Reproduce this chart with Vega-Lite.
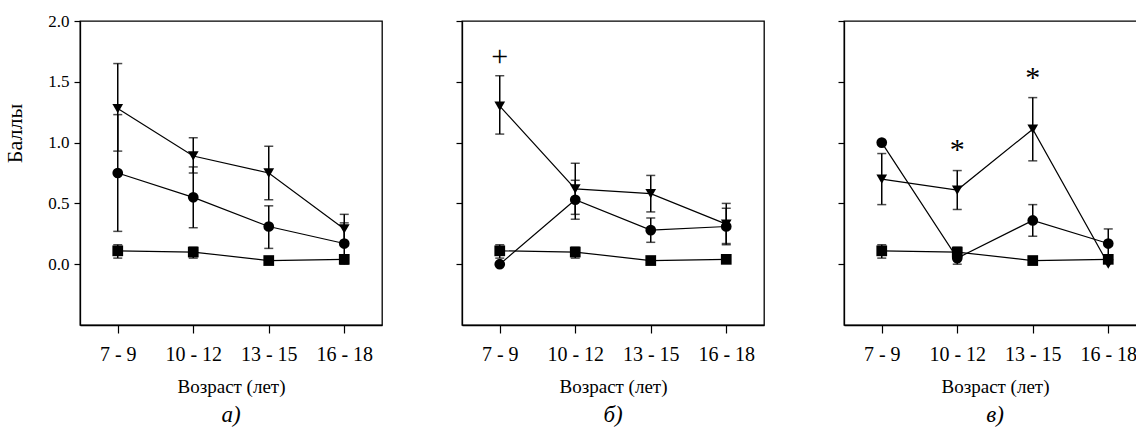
{
  "$schema": "https://vega.github.io/schema/vega-lite/v6.json",
  "padding": {"left": 3, "top": 11, "right": 0, "bottom": 0},
  "bounds": "flush",
  "spacing": 80,
  "background": "white",
  "config": {
    "font": "Liberation Serif",
    "view": {"stroke": "black", "strokeWidth": 1.3},
    "axis": {"domainColor": "black", "domainWidth": 1.3, "tickColor": "black", "tickWidth": 1.2, "labelColor": "black", "titleColor": "black", "labelFont": "Liberation Serif", "titleFont": "Liberation Serif", "labelFontSize": 19, "titleFontSize": 19, "titleFontWeight": "normal", "grid": false},
    "axisX": {"labelFontSize": 20, "titleFontSize": 19},
    "axisY": {"labelFontSize": 17, "titleFontSize": 22},
    "title": {"font": "Liberation Serif", "fontStyle": "italic", "fontWeight": "normal", "fontSize": 23, "color": "black", "orient": "bottom", "offset": 8}
  },
  "datasets": {
    "main": [
      {"panel": "а", "age": "7 - 9", "group": "circle", "mean": 0.75, "lo": 0.27, "hi": 1.23},
      {"panel": "а", "age": "10 - 12", "group": "circle", "mean": 0.55, "lo": 0.30, "hi": 0.80},
      {"panel": "а", "age": "13 - 15", "group": "circle", "mean": 0.31, "lo": 0.13, "hi": 0.48},
      {"panel": "а", "age": "16 - 18", "group": "circle", "mean": 0.17, "lo": 0.0, "hi": 0.34},
      {"panel": "а", "age": "7 - 9", "group": "triangle", "mean": 1.28, "lo": 0.93, "hi": 1.65},
      {"panel": "а", "age": "10 - 12", "group": "triangle", "mean": 0.89, "lo": 0.75, "hi": 1.04},
      {"panel": "а", "age": "13 - 15", "group": "triangle", "mean": 0.75, "lo": 0.53, "hi": 0.97},
      {"panel": "а", "age": "16 - 18", "group": "triangle", "mean": 0.29, "lo": 0.17, "hi": 0.41},
      {"panel": "а", "age": "7 - 9", "group": "square", "mean": 0.11, "lo": 0.05, "hi": 0.16},
      {"panel": "а", "age": "10 - 12", "group": "square", "mean": 0.10, "lo": 0.05, "hi": 0.14},
      {"panel": "а", "age": "13 - 15", "group": "square", "mean": 0.03, "lo": null, "hi": null},
      {"panel": "а", "age": "16 - 18", "group": "square", "mean": 0.04, "lo": null, "hi": null},

      {"panel": "б", "age": "7 - 9", "group": "circle", "mean": 0.0, "lo": null, "hi": null},
      {"panel": "б", "age": "10 - 12", "group": "circle", "mean": 0.53, "lo": 0.37, "hi": 0.69},
      {"panel": "б", "age": "13 - 15", "group": "circle", "mean": 0.28, "lo": 0.18, "hi": 0.38},
      {"panel": "б", "age": "16 - 18", "group": "circle", "mean": 0.31, "lo": 0.16, "hi": 0.46},
      {"panel": "б", "age": "7 - 9", "group": "triangle", "mean": 1.30, "lo": 1.07, "hi": 1.55},
      {"panel": "б", "age": "10 - 12", "group": "triangle", "mean": 0.62, "lo": 0.41, "hi": 0.83},
      {"panel": "б", "age": "13 - 15", "group": "triangle", "mean": 0.58, "lo": 0.43, "hi": 0.73},
      {"panel": "б", "age": "16 - 18", "group": "triangle", "mean": 0.33, "lo": 0.17, "hi": 0.50},
      {"panel": "б", "age": "7 - 9", "group": "square", "mean": 0.11, "lo": 0.05, "hi": 0.16},
      {"panel": "б", "age": "10 - 12", "group": "square", "mean": 0.10, "lo": 0.05, "hi": 0.14},
      {"panel": "б", "age": "13 - 15", "group": "square", "mean": 0.03, "lo": null, "hi": null},
      {"panel": "б", "age": "16 - 18", "group": "square", "mean": 0.04, "lo": null, "hi": null},

      {"panel": "в", "age": "7 - 9", "group": "circle", "mean": 1.0, "lo": null, "hi": null},
      {"panel": "в", "age": "10 - 12", "group": "circle", "mean": 0.05, "lo": 0.0, "hi": 0.10},
      {"panel": "в", "age": "13 - 15", "group": "circle", "mean": 0.36, "lo": 0.23, "hi": 0.49},
      {"panel": "в", "age": "16 - 18", "group": "circle", "mean": 0.17, "lo": 0.06, "hi": 0.29},
      {"panel": "в", "age": "7 - 9", "group": "triangle", "mean": 0.70, "lo": 0.49, "hi": 0.91},
      {"panel": "в", "age": "10 - 12", "group": "triangle", "mean": 0.61, "lo": 0.45, "hi": 0.77},
      {"panel": "в", "age": "13 - 15", "group": "triangle", "mean": 1.11, "lo": 0.85, "hi": 1.37},
      {"panel": "в", "age": "16 - 18", "group": "triangle", "mean": 0.0, "lo": null, "hi": null},
      {"panel": "в", "age": "7 - 9", "group": "square", "mean": 0.11, "lo": 0.05, "hi": 0.16},
      {"panel": "в", "age": "10 - 12", "group": "square", "mean": 0.10, "lo": 0.05, "hi": 0.14},
      {"panel": "в", "age": "13 - 15", "group": "square", "mean": 0.03, "lo": null, "hi": null},
      {"panel": "в", "age": "16 - 18", "group": "square", "mean": 0.04, "lo": null, "hi": null}
    ],
    "ann": [
      {"panel": "б", "age": "7 - 9", "y": 1.70, "label": "+"},
      {"panel": "в", "age": "10 - 12", "y": 0.94, "label": "*"},
      {"panel": "в", "age": "13 - 15", "y": 1.53, "label": "*"}
    ]
  },
  "hconcat": [
    {
      "width": 302, "height": 304,
      "title": {"text": "а)"},
      "layer": [
        {"data": {"name": "main"}, "transform": [{"filter": "datum.panel == 'а'"}], "mark": {"type": "line", "color": "black", "strokeWidth": 1.2},
         "encoding": {"x": {"field": "age", "type": "ordinal", "sort": ["7 - 9", "10 - 12", "13 - 15", "16 - 18"], "scale": {"type": "point", "padding": 0.5}, "axis": {"title": "Возраст (лет)", "labelAngle": 0, "tickSize": 8, "labelPadding": 11, "titlePadding": 13}},
           "y": {"field": "mean", "type": "quantitative", "scale": {"domain": [-0.5, 2.0], "nice": false, "zero": false}, "axis": {"title": "Баллы", "values": [0, 0.5, 1, 1.5, 2], "format": ".1f", "tickSize": 6, "labelPadding": 5, "titlePadding": 21, "titleY": 112}},
           "detail": {"field": "group"}}},
        {"data": {"name": "main"}, "transform": [{"filter": "datum.panel == 'а' && datum.lo != null"}], "mark": {"type": "rule", "color": "black", "strokeWidth": 1.5},
         "encoding": {"x": {"field": "age", "type": "ordinal", "sort": ["7 - 9", "10 - 12", "13 - 15", "16 - 18"]}, "y": {"field": "lo", "type": "quantitative"}, "y2": {"field": "hi"}}},
        {"data": {"name": "main"}, "transform": [{"filter": "datum.panel == 'а' && datum.lo != null"}], "mark": {"type": "tick", "color": "black", "size": 9, "thickness": 1.5},
         "encoding": {"x": {"field": "age", "type": "ordinal", "sort": ["7 - 9", "10 - 12", "13 - 15", "16 - 18"]}, "y": {"field": "lo", "type": "quantitative"}}},
        {"data": {"name": "main"}, "transform": [{"filter": "datum.panel == 'а' && datum.lo != null"}], "mark": {"type": "tick", "color": "black", "size": 9, "thickness": 1.5},
         "encoding": {"x": {"field": "age", "type": "ordinal", "sort": ["7 - 9", "10 - 12", "13 - 15", "16 - 18"]}, "y": {"field": "hi", "type": "quantitative"}}},
        {"data": {"name": "main"}, "transform": [{"filter": "datum.panel == 'а'"}], "mark": {"type": "point", "filled": true, "color": "black", "opacity": 1, "size": 115},
         "encoding": {"x": {"field": "age", "type": "ordinal", "sort": ["7 - 9", "10 - 12", "13 - 15", "16 - 18"]}, "y": {"field": "mean", "type": "quantitative"},
           "shape": {"field": "group", "type": "nominal", "scale": {"domain": ["circle", "square", "triangle"], "range": ["circle", "square", "triangle-down"]}, "legend": null}}}
      ]
    },
    {
      "width": 302, "height": 304,
      "title": {"text": "б)"},
      "layer": [
        {"data": {"name": "main"}, "transform": [{"filter": "datum.panel == 'б'"}], "mark": {"type": "line", "color": "black", "strokeWidth": 1.2},
         "encoding": {"x": {"field": "age", "type": "ordinal", "sort": ["7 - 9", "10 - 12", "13 - 15", "16 - 18"], "scale": {"type": "point", "padding": 0.5}, "axis": {"title": "Возраст (лет)", "labelAngle": 0, "tickSize": 8, "labelPadding": 11, "titlePadding": 13}},
           "y": {"field": "mean", "type": "quantitative", "scale": {"domain": [-0.5, 2.0], "nice": false, "zero": false}, "axis": {"title": null, "labels": false, "values": [0, 0.5, 1, 1.5, 2], "tickSize": 6}},
           "detail": {"field": "group"}}},
        {"data": {"name": "main"}, "transform": [{"filter": "datum.panel == 'б' && datum.lo != null"}], "mark": {"type": "rule", "color": "black", "strokeWidth": 1.5},
         "encoding": {"x": {"field": "age", "type": "ordinal", "sort": ["7 - 9", "10 - 12", "13 - 15", "16 - 18"]}, "y": {"field": "lo", "type": "quantitative"}, "y2": {"field": "hi"}}},
        {"data": {"name": "main"}, "transform": [{"filter": "datum.panel == 'б' && datum.lo != null"}], "mark": {"type": "tick", "color": "black", "size": 9, "thickness": 1.5},
         "encoding": {"x": {"field": "age", "type": "ordinal", "sort": ["7 - 9", "10 - 12", "13 - 15", "16 - 18"]}, "y": {"field": "lo", "type": "quantitative"}}},
        {"data": {"name": "main"}, "transform": [{"filter": "datum.panel == 'б' && datum.lo != null"}], "mark": {"type": "tick", "color": "black", "size": 9, "thickness": 1.5},
         "encoding": {"x": {"field": "age", "type": "ordinal", "sort": ["7 - 9", "10 - 12", "13 - 15", "16 - 18"]}, "y": {"field": "hi", "type": "quantitative"}}},
        {"data": {"name": "main"}, "transform": [{"filter": "datum.panel == 'б'"}], "mark": {"type": "point", "filled": true, "color": "black", "opacity": 1, "size": 115},
         "encoding": {"x": {"field": "age", "type": "ordinal", "sort": ["7 - 9", "10 - 12", "13 - 15", "16 - 18"]}, "y": {"field": "mean", "type": "quantitative"},
           "shape": {"field": "group", "type": "nominal", "scale": {"domain": ["circle", "square", "triangle"], "range": ["circle", "square", "triangle-down"]}, "legend": null}}},
        {"data": {"name": "ann"}, "transform": [{"filter": "datum.panel == 'б'"}], "mark": {"type": "text", "color": "black", "fontSize": 30, "font": "Liberation Serif", "baseline": "middle"},
         "encoding": {"x": {"field": "age", "type": "ordinal", "sort": ["7 - 9", "10 - 12", "13 - 15", "16 - 18"]}, "y": {"field": "y", "type": "quantitative"}, "text": {"field": "label"}}}
      ]
    },
    {
      "width": 302, "height": 304,
      "title": {"text": "в)"},
      "layer": [
        {"data": {"name": "main"}, "transform": [{"filter": "datum.panel == 'в'"}], "mark": {"type": "line", "color": "black", "strokeWidth": 1.2},
         "encoding": {"x": {"field": "age", "type": "ordinal", "sort": ["7 - 9", "10 - 12", "13 - 15", "16 - 18"], "scale": {"type": "point", "padding": 0.5}, "axis": {"title": "Возраст (лет)", "labelAngle": 0, "tickSize": 8, "labelPadding": 11, "titlePadding": 13}},
           "y": {"field": "mean", "type": "quantitative", "scale": {"domain": [-0.5, 2.0], "nice": false, "zero": false}, "axis": {"title": null, "labels": false, "values": [0, 0.5, 1, 1.5, 2], "tickSize": 6}},
           "detail": {"field": "group"}}},
        {"data": {"name": "main"}, "transform": [{"filter": "datum.panel == 'в' && datum.lo != null"}], "mark": {"type": "rule", "color": "black", "strokeWidth": 1.5},
         "encoding": {"x": {"field": "age", "type": "ordinal", "sort": ["7 - 9", "10 - 12", "13 - 15", "16 - 18"]}, "y": {"field": "lo", "type": "quantitative"}, "y2": {"field": "hi"}}},
        {"data": {"name": "main"}, "transform": [{"filter": "datum.panel == 'в' && datum.lo != null"}], "mark": {"type": "tick", "color": "black", "size": 9, "thickness": 1.5},
         "encoding": {"x": {"field": "age", "type": "ordinal", "sort": ["7 - 9", "10 - 12", "13 - 15", "16 - 18"]}, "y": {"field": "lo", "type": "quantitative"}}},
        {"data": {"name": "main"}, "transform": [{"filter": "datum.panel == 'в' && datum.lo != null"}], "mark": {"type": "tick", "color": "black", "size": 9, "thickness": 1.5},
         "encoding": {"x": {"field": "age", "type": "ordinal", "sort": ["7 - 9", "10 - 12", "13 - 15", "16 - 18"]}, "y": {"field": "hi", "type": "quantitative"}}},
        {"data": {"name": "main"}, "transform": [{"filter": "datum.panel == 'в'"}], "mark": {"type": "point", "filled": true, "color": "black", "opacity": 1, "size": 115},
         "encoding": {"x": {"field": "age", "type": "ordinal", "sort": ["7 - 9", "10 - 12", "13 - 15", "16 - 18"]}, "y": {"field": "mean", "type": "quantitative"},
           "shape": {"field": "group", "type": "nominal", "scale": {"domain": ["circle", "square", "triangle"], "range": ["circle", "square", "triangle-down"]}, "legend": null}}},
        {"data": {"name": "ann"}, "transform": [{"filter": "datum.panel == 'в'"}], "mark": {"type": "text", "color": "black", "fontSize": 30, "font": "Liberation Serif", "baseline": "middle"},
         "encoding": {"x": {"field": "age", "type": "ordinal", "sort": ["7 - 9", "10 - 12", "13 - 15", "16 - 18"]}, "y": {"field": "y", "type": "quantitative"}, "text": {"field": "label"}}}
      ]
    }
  ]
}
